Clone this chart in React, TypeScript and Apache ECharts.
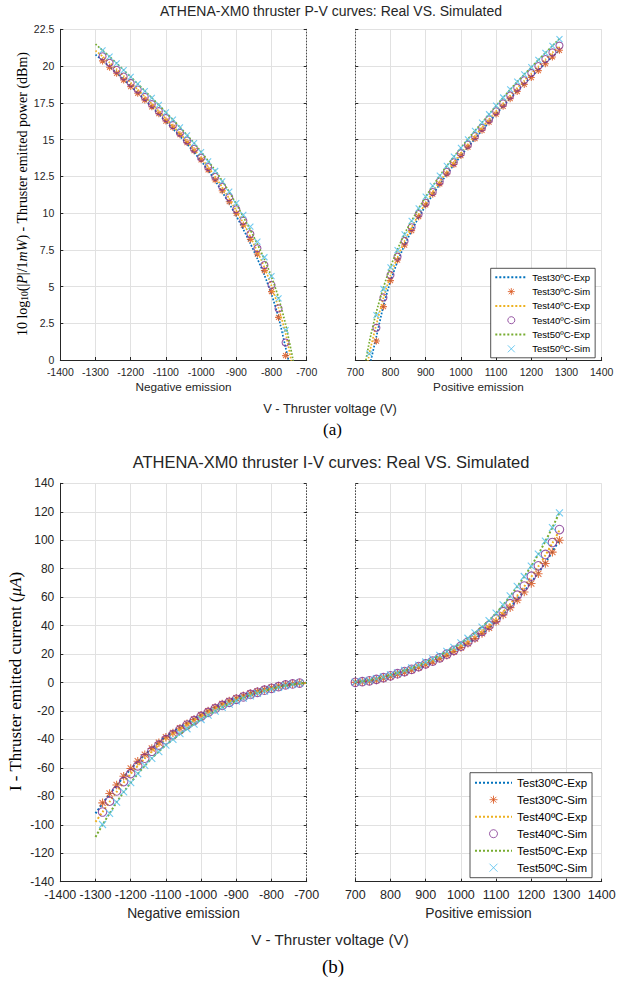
import React, { useEffect, useRef } from 'react';
import * as echarts from 'echarts';

const SERIES_NAMES = ['Test30ºC-Exp', 'Test30ºC-Sim', 'Test40ºC-Exp', 'Test40ºC-Sim', 'Test50ºC-Exp', 'Test50ºC-Sim'];
const COLORS = ['#0072BD', '#D95319', '#EDB120', '#7E2F8E', '#77AC30', '#4DBEEE'];

// Voltages (V)
const V_NEG_EXP = [-1300, -1280, -1260, -1240, -1220, -1200, -1180, -1160, -1140, -1120, -1100, -1080, -1060, -1040, -1020, -1000, -980, -960, -940, -920, -900, -880, -860, -840, -820, -800, -780, -760, -740, -720, -700];
const V_NEG_SIM = [-1280, -1260, -1240, -1220, -1200, -1180, -1160, -1140, -1120, -1100, -1080, -1060, -1040, -1020, -1000, -980, -960, -940, -920, -900, -880, -860, -840, -820, -800, -780, -760, -740, -720];
const V_POS = [700, 720, 740, 760, 780, 800, 820, 840, 860, 880, 900, 920, 940, 960, 980, 1000, 1020, 1040, 1060, 1080, 1100, 1120, 1140, 1160, 1180, 1200, 1220, 1240, 1260, 1280];

// P-V (dBm), negative emission
const P_NEG_EXP30 = [20.78, 20.37, 19.95, 19.53, 19.08, 18.63, 18.17, 17.70, 17.22, 16.72, 16.21, 15.73, 15.22, 14.69, 14.13, 13.54, 12.90, 12.20, 11.43, 10.64, 9.80, 8.89, 7.92, 6.88, 5.77, 4.47, 2.90, 0.85, -1.31, -4.44, -8.54];
const P_NEG_SIM30 = [20.35, 19.92, 19.51, 19.05, 18.60, 18.15, 17.69, 17.23, 16.76, 16.26, 15.84, 15.33, 14.79, 14.24, 13.62, 12.94, 12.25, 11.52, 10.77, 9.98, 9.18, 8.21, 7.21, 6.08, 4.65, 2.90, 0.30, -2.28, -6.66];
const P_NEG_EXP40 = [21.05, 20.66, 20.24, 19.79, 19.33, 18.87, 18.40, 17.92, 17.43, 16.93, 16.42, 15.92, 15.41, 14.88, 14.33, 13.75, 13.13, 12.47, 11.75, 10.97, 10.15, 9.31, 8.38, 7.37, 6.30, 5.05, 3.54, 1.82, -0.52, -2.98, -6.78];
const P_NEG_SIM40 = [20.66, 20.22, 19.75, 19.29, 18.85, 18.40, 17.90, 17.41, 16.93, 16.46, 15.98, 15.46, 14.93, 14.37, 13.77, 13.13, 12.47, 11.79, 11.07, 10.25, 9.48, 8.57, 7.60, 6.46, 5.11, 3.51, 1.19, -1.31, -5.41];
const P_NEG_EXP50 = [21.49, 21.07, 20.64, 20.19, 19.73, 19.27, 18.79, 18.32, 17.84, 17.35, 16.85, 16.35, 15.84, 15.30, 14.76, 14.17, 13.55, 12.90, 12.19, 11.43, 10.61, 9.74, 8.84, 7.88, 6.85, 5.66, 4.24, 2.43, 0.15, -2.40, -6.78];
const P_NEG_SIM50 = [21.06, 20.64, 20.18, 19.72, 19.27, 18.78, 18.30, 17.84, 17.36, 16.85, 16.35, 15.82, 15.29, 14.76, 14.15, 13.51, 12.86, 12.16, 11.45, 10.68, 9.87, 9.07, 8.05, 6.99, 5.71, 4.20, 2.03, -0.17, -4.44];

// P-V (dBm), positive emission
const P_POS_EXP30 = [-8.54, -3.65, -0.52, 1.60, 3.69, 5.37, 6.70, 7.82, 8.79, 9.70, 10.51, 11.25, 11.96, 12.63, 13.28, 13.89, 14.48, 15.06, 15.62, 16.18, 16.73, 17.27, 17.80, 18.30, 18.79, 19.27, 19.73, 20.19, 20.64, 21.08];
const P_POS_SIM30 = [-11.55, -4.44, -1.31, 1.29, 3.63, 5.40, 6.80, 7.82, 8.80, 9.75, 10.55, 11.28, 11.98, 12.66, 13.30, 13.91, 14.49, 15.07, 15.63, 16.19, 16.73, 17.26, 17.78, 18.27, 18.75, 19.22, 19.69, 20.16, 20.62, 21.07];
const P_POS_EXP40 = [-6.78, -2.40, 0.45, 2.43, 4.24, 5.75, 6.99, 8.11, 9.03, 9.90, 10.68, 11.43, 12.14, 12.81, 13.45, 14.07, 14.66, 15.25, 15.82, 16.37, 16.92, 17.46, 17.99, 18.51, 19.01, 19.50, 19.98, 20.45, 20.92, 21.37];
const P_POS_SIM40 = [-9.79, -3.65, -0.52, 2.19, 4.26, 5.78, 7.03, 8.10, 9.03, 9.93, 10.70, 11.43, 12.14, 12.81, 13.45, 14.07, 14.65, 15.23, 15.80, 16.37, 16.92, 17.46, 18.00, 18.53, 19.03, 19.53, 20.00, 20.48, 20.93, 21.39];
const P_POS_EXP50 = [-5.53, -1.43, 1.24, 3.28, 4.94, 6.35, 7.53, 8.59, 9.47, 10.31, 11.10, 11.84, 12.54, 13.21, 13.84, 14.44, 15.03, 15.60, 16.16, 16.73, 17.30, 17.86, 18.40, 18.93, 19.43, 19.92, 20.42, 20.90, 21.38, 21.85];
const P_POS_SIM50 = [-8.54, -2.40, 0.43, 3.06, 4.83, 6.30, 7.48, 8.55, 9.46, 10.32, 11.11, 11.84, 12.54, 13.21, 13.84, 14.44, 15.01, 15.59, 16.15, 16.72, 17.30, 17.86, 18.42, 18.94, 19.44, 19.92, 20.42, 20.90, 21.37, 21.83];

// I-V (uA), negative emission
const I_NEG_EXP30 = [-92.0, -85.0, -78.5, -72.3, -66.3, -60.8, -55.6, -50.8, -46.3, -42.0, -38.0, -34.6, -31.4, -28.3, -25.4, -22.6, -19.9, -17.3, -14.8, -12.6, -10.6, -8.8, -7.2, -5.8, -4.6, -3.5, -2.5, -1.6, -1.0, -0.5, -0.2];
const I_NEG_SIM30 = [-84.6, -78.0, -72.0, -65.9, -60.4, -55.3, -50.7, -46.4, -42.3, -38.4, -35.5, -32.2, -29.0, -26.0, -23.0, -20.1, -17.5, -15.1, -13.0, -11.1, -9.4, -7.7, -6.3, -5.0, -3.7, -2.5, -1.4, -0.8, -0.3];
const I_NEG_EXP40 = [-98.0, -91.0, -83.8, -76.9, -70.3, -64.2, -58.6, -53.4, -48.5, -44.0, -39.9, -36.2, -32.8, -29.6, -26.6, -23.7, -21.0, -18.4, -15.9, -13.6, -11.5, -9.7, -8.0, -6.5, -5.2, -4.0, -2.9, -2.0, -1.2, -0.7, -0.3];
const I_NEG_SIM40 = [-91.0, -83.4, -76.2, -69.6, -64.0, -58.6, -53.2, -48.3, -44.0, -40.2, -36.7, -33.2, -29.9, -26.8, -23.8, -21.0, -18.4, -16.1, -13.9, -11.8, -10.1, -8.4, -6.9, -5.4, -4.1, -2.9, -1.7, -1.0, -0.4];
const I_NEG_EXP50 = [-108.5, -100.0, -92.0, -84.2, -77.0, -70.5, -64.2, -58.5, -53.3, -48.5, -44.0, -40.0, -36.2, -32.6, -29.3, -26.1, -23.1, -20.3, -17.6, -15.1, -12.8, -10.7, -8.9, -7.3, -5.9, -4.6, -3.4, -2.3, -1.4, -0.8, -0.3];
const I_NEG_SIM50 = [-99.8, -92.0, -84.0, -76.9, -70.4, -64.0, -58.3, -53.4, -48.6, -44.0, -40.0, -36.0, -32.5, -29.3, -26.0, -22.9, -20.1, -17.5, -15.2, -13.0, -11.0, -9.4, -7.6, -6.1, -4.7, -3.4, -2.1, -1.3, -0.5];

// I-V (uA), positive emission
const I_POS_EXP30 = [0.2, 0.6, 1.2, 1.9, 3.0, 4.3, 5.7, 7.2, 8.8, 10.6, 12.5, 14.5, 16.7, 19.1, 21.7, 24.5, 27.5, 30.8, 34.4, 38.4, 42.8, 47.6, 52.8, 58.3, 64.2, 70.4, 77.1, 84.3, 92.0, 100.2];
const I_POS_SIM30 = [0.1, 0.5, 1.0, 1.8, 3.0, 4.3, 5.8, 7.2, 8.8, 10.7, 12.6, 14.6, 16.8, 19.2, 21.8, 24.6, 27.6, 30.9, 34.5, 38.5, 42.8, 47.5, 52.6, 57.9, 63.6, 69.6, 76.4, 83.6, 91.6, 100.0];
const I_POS_EXP40 = [0.3, 0.8, 1.5, 2.3, 3.4, 4.7, 6.1, 7.7, 9.3, 11.1, 13.0, 15.1, 17.4, 19.9, 22.6, 25.5, 28.7, 32.2, 36.0, 40.1, 44.7, 49.7, 55.2, 61.1, 67.5, 74.3, 81.6, 89.5, 98.0, 107.0];
const I_POS_SIM40 = [0.15, 0.6, 1.2, 2.2, 3.4, 4.7, 6.2, 7.7, 9.3, 11.2, 13.1, 15.1, 17.4, 19.9, 22.6, 25.5, 28.6, 32.1, 35.9, 40.1, 44.7, 49.8, 55.4, 61.4, 67.8, 74.7, 82.0, 90.0, 98.4, 107.5];
const I_POS_EXP50 = [0.4, 1.0, 1.8, 2.8, 4.0, 5.4, 6.9, 8.6, 10.3, 12.2, 14.3, 16.6, 19.1, 21.8, 24.7, 27.8, 31.2, 34.9, 39.0, 43.6, 48.8, 54.5, 60.7, 67.4, 74.4, 81.9, 90.2, 99.3, 109.0, 119.5];
const I_POS_SIM50 = [0.2, 0.8, 1.5, 2.7, 3.9, 5.3, 6.8, 8.5, 10.3, 12.2, 14.4, 16.6, 19.1, 21.8, 24.7, 27.8, 31.1, 34.8, 38.9, 43.5, 48.8, 54.6, 60.9, 67.6, 74.5, 81.8, 90.3, 99.3, 108.9, 119.2];

const SANS = '"Liberation Sans", Arial, Helvetica, sans-serif';
const SERIF = '"Liberation Serif", "Times New Roman", serif';
const AX = '#262626';
const GRIDC = '#e1e1e1';

const ASTERISK = 'path://M0,-1L0,1M-1,0L1,0M-0.72,-0.72L0.72,0.72M-0.72,0.72L0.72,-0.72';
const CROSS = 'path://M-1,-1L1,1M-1,1L1,-1';

const fmt = (v: number) => String(v);

function xAxisDef(gridIndex: number, min: number, max: number, fs: number, margin: number, side: 'neg' | 'pos') {
  return {
    type: 'value', gridIndex, min, max, interval: 100,
    axisLine: { show: true, onZero: false, lineStyle: { color: AX, width: 1 } },
    axisTick: { show: true, inside: true, length: 3, lineStyle: { color: AX } },
    axisLabel: { fontSize: fs, color: AX, fontFamily: SANS, margin, formatter: fmt, hideOverlap: false },
    splitLine: { show: true, lineStyle: { color: GRIDC, width: 1 }, showMinLine: side === 'neg', showMaxLine: side === 'pos' },
  };
}

function yMain(gridIndex: number, min: number, max: number, interval: number, fs: number) {
  return {
    type: 'value', gridIndex, min, max, interval, position: 'left',
    axisLine: { show: true, onZero: false, lineStyle: { color: AX, width: 1 } },
    axisTick: { show: true, inside: true, length: 3, lineStyle: { color: AX } },
    axisLabel: { fontSize: fs, color: AX, fontFamily: SANS, margin: 6, formatter: fmt },
    splitLine: { show: true, lineStyle: { color: GRIDC, width: 1 } },
  };
}

function yDotted(gridIndex: number, min: number, max: number, interval: number, position: 'left' | 'right', split: boolean) {
  return {
    type: 'value', gridIndex, min, max, interval, position,
    axisLine: { show: true, onZero: false, lineStyle: { color: '#4a4a4a', width: 1, type: [1, 2] } },
    axisTick: { show: true, inside: true, length: 3, lineStyle: { color: AX } },
    axisLabel: { show: false },
    splitLine: { show: split, lineStyle: { color: GRIDC, width: 1 } },
  };
}

function panelSeries(xi: number, yi: number, expX: number[], simX: number[], exps: number[][], sims: number[][], big: boolean) {
  const out: any[] = [];
  const simSymbols = [ASTERISK, 'circle', CROSS];
  const simSizes = big ? [8.5, 8.5, 7] : [7, 7, 6];
  for (let k = 0; k < 3; k++) {
    out.push({
      type: 'line', name: SERIES_NAMES[2 * k], xAxisIndex: xi, yAxisIndex: yi,
      data: expX.map((x, j) => [x, exps[k][j]]),
      symbol: 'none', smooth: 0.2, silent: true, clip: true,
      lineStyle: { color: COLORS[2 * k], width: big ? 2 : 1.7, type: 'dotted' },
      itemStyle: { color: COLORS[2 * k] },
      z: 2 + k,
    });
    out.push({
      type: 'scatter', name: SERIES_NAMES[2 * k + 1], xAxisIndex: xi, yAxisIndex: yi,
      data: simX.map((x, j) => [x, sims[k][j]]),
      symbol: simSymbols[k], symbolSize: simSizes[k], silent: true, clip: true,
      itemStyle: { color: 'transparent', borderColor: COLORS[2 * k + 1], borderWidth: 1.1 },
      z: 2 + k,
    });
  }
  return out;
}

function txt(text: string, x: number, y: number, fontSize: number, fill = AX, fontFamily = SANS) {
  return { type: 'text', x, y, silent: true, style: { text, fontSize, fill, fontFamily, align: 'center', verticalAlign: 'middle' } };
}

function legendData() {
  return SERIES_NAMES.map((name, k) =>
    k % 2 === 0
      ? { name, itemStyle: { color: 'transparent', borderColor: 'transparent', borderWidth: 0, opacity: 0 } }
      : { name },
  );
}

function buildOption() {
  const legendBase = {
    data: legendData(), orient: 'vertical', selectedMode: false,
    borderColor: AX, borderWidth: 0.8, backgroundColor: '#fff', borderRadius: 0,
    itemStyle: { borderWidth: 1 },
  };
  return {
    animation: false,
    backgroundColor: '#fff',
    textStyle: { fontFamily: SANS },
    grid: [
      { left: 60.3, top: 29.3, width: 246.4, height: 330.7 },
      { left: 355.3, top: 29.3, width: 246.4, height: 330.7 },
      { left: 60.3, top: 483.3, width: 246.4, height: 398.4 },
      { left: 355.3, top: 483.3, width: 246.4, height: 398.4 },
    ],
    xAxis: [
      xAxisDef(0, -1400, -700, 10.5, 6, 'neg'),
      xAxisDef(1, 700, 1400, 10.5, 6, 'pos'),
      xAxisDef(2, -1400, -700, 12.5, 7, 'neg'),
      xAxisDef(3, 700, 1400, 12.5, 7, 'pos'),
    ],
    yAxis: [
      yMain(0, 0, 22.5, 2.5, 10.5),
      yDotted(1, 0, 22.5, 2.5, 'left', true),
      yMain(2, -140, 140, 20, 12),
      yDotted(3, -140, 140, 20, 'left', true),
      yDotted(0, 0, 22.5, 2.5, 'right', false),
      yDotted(2, -140, 140, 20, 'right', false),
    ],
    legend: [
      {
        ...legendBase, left: 490.7, top: 268.3, itemWidth: 32, itemHeight: 7, itemGap: 4.3,
        padding: [4, 5, 4, 3.6],
        textStyle: { fontSize: 9.5, lineHeight: 9, color: '#000', fontFamily: SANS },
      },
      {
        ...legendBase, left: 470, top: 772.7, itemWidth: 37, itemHeight: 8, itemGap: 5,
        padding: [4, 5, 4, 4],
        textStyle: { fontSize: 11.5, lineHeight: 11, color: '#000', fontFamily: SANS },
      },
    ],
    series: [
      ...panelSeries(0, 0, V_NEG_EXP, V_NEG_SIM, [P_NEG_EXP30, P_NEG_EXP40, P_NEG_EXP50], [P_NEG_SIM30, P_NEG_SIM40, P_NEG_SIM50], false),
      ...panelSeries(1, 1, V_POS, V_POS, [P_POS_EXP30, P_POS_EXP40, P_POS_EXP50], [P_POS_SIM30, P_POS_SIM40, P_POS_SIM50], false),
      ...panelSeries(2, 2, V_NEG_EXP, V_NEG_SIM, [I_NEG_EXP30, I_NEG_EXP40, I_NEG_EXP50], [I_NEG_SIM30, I_NEG_SIM40, I_NEG_SIM50], true),
      ...panelSeries(3, 3, V_POS, V_POS, [I_POS_EXP30, I_POS_EXP40, I_POS_EXP50], [I_POS_SIM30, I_POS_SIM40, I_POS_SIM50], true),
    ],
    graphic: [
      txt('ATHENA-XM0 thruster P-V curves: Real VS. Simulated', 331, 11, 14),
      txt('Negative emission', 183.5, 386.7, 11.75),
      txt('Positive emission', 478.5, 386.7, 11.75),
      txt('V - Thruster voltage (V)', 330, 408, 12.9),
      txt('(a)', 332.5, 429, 17, '#000', SERIF),
      txt('ATHENA-XM0 thruster I-V curves: Real VS. Simulated', 331, 462, 16.5),
      txt('Negative emission', 183.5, 913, 13.8),
      txt('Positive emission', 478.5, 913, 13.8),
      txt('V - Thruster voltage (V)', 330, 939, 15.2),
      txt('(b)', 333, 966, 19, '#000', SERIF),
      {
        type: 'text', x: 22, y: 194, rotation: Math.PI / 2, silent: true,
        style: {
          text: '{n|10 log}{s|10}{n|(|}{i|P}{n||/1}{i|mW}{n|) - Thruster emitted power (dBm)}',
          align: 'center', verticalAlign: 'middle', fill: '#000', fontFamily: SERIF, fontSize: 14,
          rich: {
            n: { fontFamily: SERIF, fontSize: 14, fill: '#000', lineHeight: 16 },
            i: { fontFamily: SERIF, fontSize: 14, fontStyle: 'italic', fill: '#000', lineHeight: 16 },
            s: { fontFamily: SERIF, fontSize: 9.5, fill: '#000', lineHeight: 9, verticalAlign: 'bottom' },
          },
        },
      },
      {
        type: 'text', x: 15.5, y: 681.5, rotation: Math.PI / 2, silent: true,
        style: {
          text: '{n|I - Thruster emitted current (}{i|μA}{n|)}',
          align: 'center', verticalAlign: 'middle', fill: '#000', fontFamily: SERIF, fontSize: 17,
          rich: {
            n: { fontFamily: SERIF, fontSize: 17, fill: '#000' },
            i: { fontFamily: SERIF, fontSize: 17, fontStyle: 'italic', fill: '#000' },
          },
        },
      },
    ],
  };
}

export default function App() {
  const ref = useRef<HTMLDivElement>(null);
  useEffect(() => {
    if (!ref.current) return;
    const chart = echarts.init(ref.current, null, { renderer: 'svg' });
    chart.setOption(buildOption() as any);
    return () => chart.dispose();
  }, []);
  return (
    <div
      ref={ref}
      style={{ position: 'absolute', left: 0, top: 0, width: 629, height: 981, background: '#fff' }}
    />
  );
}
